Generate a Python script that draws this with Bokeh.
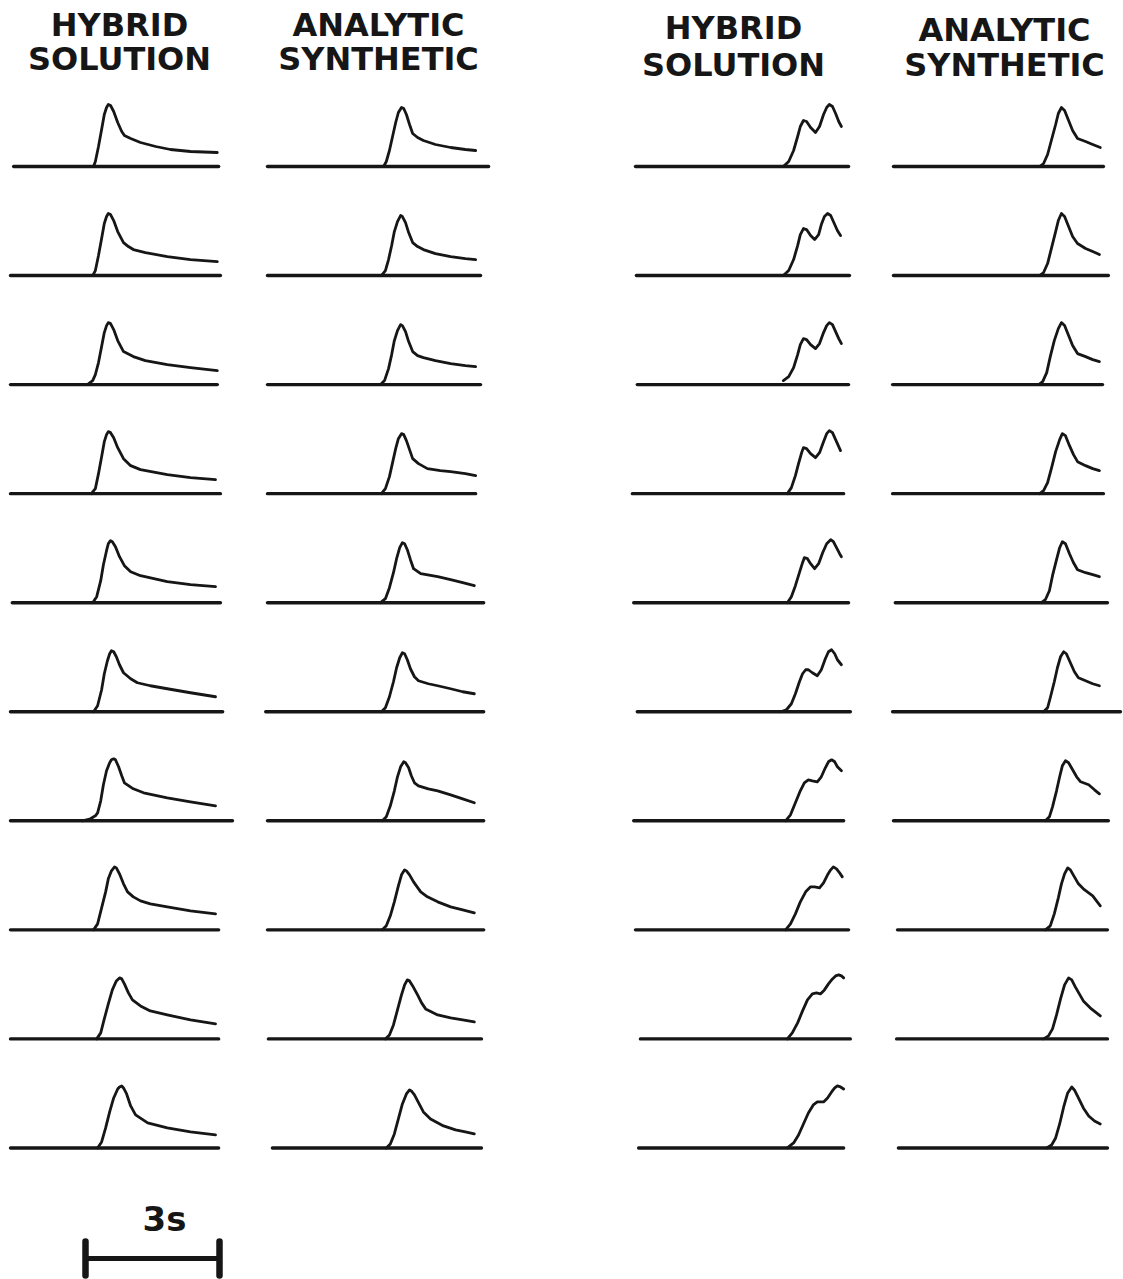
from bokeh.plotting import figure
from bokeh.models import Range1d
from bokeh.embed import file_html
from bokeh.resources import INLINE
from bokeh.core.properties import value

# ---------------------------------------------------------------------------
# Waveforms: time (s, from the left end of each column's trace) and amplitude
# (arbitrary units) for ten stations in each of the four columns.
# ---------------------------------------------------------------------------

# Column 1 - hybrid solution (left panel)
HYB_L_T = [
    [1.86, 1.90, 1.97, 2.04, 2.10, 2.15, 2.19, 2.24, 2.31, 2.40, 2.49, 2.55, 2.69, 2.91, 3.25, 3.58, 4.03, 4.63],
    [1.84, 1.90, 1.97, 2.04, 2.10, 2.15, 2.19, 2.24, 2.31, 2.40, 2.53, 2.64, 2.75, 3.02, 3.51, 4.03, 4.63],
    [1.72, 1.84, 1.90, 1.97, 2.04, 2.10, 2.15, 2.19, 2.24, 2.31, 2.40, 2.53, 2.75, 3.02, 3.51, 4.03, 4.63],
    [1.81, 1.90, 1.97, 2.04, 2.10, 2.15, 2.19, 2.24, 2.31, 2.40, 2.53, 2.69, 2.91, 3.51, 4.03, 4.59],
    [1.84, 1.93, 2.02, 2.08, 2.15, 2.19, 2.24, 2.28, 2.35, 2.44, 2.55, 2.69, 2.91, 3.51, 4.03, 4.59],
    [1.86, 1.95, 2.04, 2.10, 2.17, 2.22, 2.26, 2.31, 2.37, 2.44, 2.53, 2.69, 2.84, 3.13, 3.51, 4.03, 4.59],
    [1.61, 1.79, 1.90, 1.95, 2.02, 2.08, 2.15, 2.22, 2.26, 2.31, 2.35, 2.42, 2.49, 2.55, 2.75, 2.98, 3.51, 4.03, 4.59],
    [1.86, 1.95, 2.04, 2.13, 2.19, 2.26, 2.33, 2.37, 2.44, 2.53, 2.62, 2.75, 2.91, 3.13, 3.51, 4.03, 4.59],
    [1.93, 2.02, 2.10, 2.19, 2.28, 2.37, 2.44, 2.49, 2.55, 2.64, 2.73, 2.91, 3.13, 3.51, 4.03, 4.59],
    [1.95, 2.04, 2.13, 2.22, 2.31, 2.40, 2.44, 2.49, 2.53, 2.60, 2.69, 2.80, 3.07, 3.51, 4.03, 4.59],
]
HYB_L_A = [
    [0, 5, 20, 37, 52, 59, 62, 61, 55, 44, 35, 31, 28, 24, 20, 17, 15, 14],
    [0, 5, 20, 37, 52, 59, 62, 61, 55, 44, 33, 29, 26, 23, 19, 16, 14],
    [0, 4, 10, 22, 38, 52, 59, 62, 61, 55, 44, 33, 28, 24, 20, 17, 14],
    [0, 5, 20, 37, 52, 59, 62, 61, 56, 46, 35, 28, 24, 19, 16, 14],
    [0, 6, 22, 38, 52, 59, 62, 61, 56, 46, 37, 31, 27, 21, 18, 16],
    [0, 6, 22, 38, 51, 58, 61, 60, 55, 47, 39, 33, 29, 26, 23, 19, 15],
    [0, 2, 5, 8, 20, 36, 50, 58, 61, 62, 61, 54, 45, 38, 32, 28, 23, 19, 15],
    [0, 6, 22, 38, 51, 59, 63, 62, 56, 46, 38, 33, 29, 26, 23, 19, 16],
    [0, 6, 20, 35, 49, 58, 61, 60, 55, 46, 39, 33, 28, 24, 19, 15],
    [0, 6, 20, 36, 50, 59, 61, 62, 60, 54, 42, 33, 25, 20, 16, 13],
]
HYB_L_BS = [0.07, 0.0, 0.0, 0.0, 0.04, 0.0, 0.0, 0.0, 0.0, 0.0]
HYB_L_BE = [4.66, 4.70, 4.63, 4.70, 4.70, 4.75, 4.97, 4.66, 4.66, 4.66]

# Column 2 - analytic synthetic (left panel)
ANA_L_T = [
    [2.60, 2.66, 2.73, 2.80, 2.87, 2.93, 3.00, 3.05, 3.11, 3.18, 3.25, 3.36, 3.49, 3.76, 4.10, 4.43, 4.66],
    [2.55, 2.64, 2.71, 2.78, 2.84, 2.91, 2.98, 3.02, 3.09, 3.16, 3.25, 3.36, 3.49, 3.76, 4.10, 4.43, 4.66],
    [2.53, 2.62, 2.71, 2.78, 2.84, 2.91, 2.98, 3.02, 3.09, 3.16, 3.25, 3.36, 3.49, 3.76, 4.10, 4.43, 4.66],
    [2.55, 2.64, 2.73, 2.80, 2.87, 2.93, 3.00, 3.05, 3.11, 3.18, 3.25, 3.38, 3.58, 3.87, 4.10, 4.43, 4.66],
    [2.53, 2.64, 2.73, 2.82, 2.89, 2.96, 3.02, 3.07, 3.13, 3.20, 3.27, 3.43, 3.81, 4.10, 4.37, 4.63],
    [2.55, 2.64, 2.73, 2.82, 2.89, 2.96, 3.02, 3.07, 3.13, 3.20, 3.29, 3.38, 3.60, 3.81, 4.10, 4.37, 4.63],
    [2.57, 2.66, 2.75, 2.84, 2.91, 2.98, 3.05, 3.09, 3.16, 3.22, 3.29, 3.38, 3.60, 3.81, 4.10, 4.37, 4.63],
    [2.57, 2.66, 2.75, 2.84, 2.93, 3.00, 3.07, 3.11, 3.18, 3.27, 3.43, 3.58, 3.81, 4.10, 4.37, 4.63],
    [2.64, 2.73, 2.82, 2.91, 3.00, 3.07, 3.13, 3.18, 3.25, 3.36, 3.45, 3.54, 3.81, 4.10, 4.37, 4.63],
    [2.66, 2.75, 2.84, 2.93, 3.02, 3.11, 3.18, 3.22, 3.29, 3.36, 3.49, 3.65, 3.94, 4.21, 4.43, 4.63],
]
ANA_L_A = [
    [0, 5, 16, 30, 44, 54, 59, 58, 52, 42, 33, 29, 26, 22, 19, 17, 16],
    [0, 5, 16, 30, 44, 54, 60, 59, 53, 43, 33, 29, 26, 22, 19, 17, 16],
    [0, 4, 16, 30, 44, 54, 60, 59, 53, 43, 33, 29, 27, 24, 21, 19, 18],
    [0, 5, 17, 31, 45, 55, 60, 59, 53, 44, 35, 30, 25, 23, 22, 20, 18],
    [0, 4, 15, 30, 44, 55, 60, 59, 53, 43, 34, 29, 26, 23, 20, 17],
    [0, 4, 15, 30, 44, 54, 59, 58, 52, 43, 35, 31, 28, 26, 23, 20, 18],
    [0, 4, 15, 30, 44, 54, 59, 58, 53, 45, 38, 35, 32, 30, 26, 22, 18],
    [0, 4, 14, 28, 44, 55, 60, 59, 55, 48, 38, 33, 28, 23, 20, 17],
    [0, 4, 14, 29, 44, 54, 59, 58, 53, 44, 36, 30, 24, 21, 19, 17],
    [0, 4, 14, 29, 44, 54, 58, 57, 53, 47, 36, 29, 22, 18, 16, 14],
]
ANA_L_BS = [0.0, 0.0, 0.0, 0.0, 0.0, -0.04, 0.0, 0.0, 0.02, 0.11]
ANA_L_BE = [4.95, 4.77, 4.77, 4.66, 4.84, 4.84, 4.84, 4.84, 4.79, 4.79]

# Column 3 - hybrid solution (right panel)
HYB_R_T = [
    [3.31, 3.43, 3.54, 3.63, 3.69, 3.76, 3.83, 3.92, 4.03, 4.12, 4.21, 4.28, 4.34, 4.41, 4.48, 4.55, 4.61],
    [3.31, 3.43, 3.54, 3.63, 3.69, 3.76, 3.83, 3.92, 4.01, 4.10, 4.16, 4.23, 4.30, 4.37, 4.43, 4.52, 4.59],
    [3.31, 3.43, 3.54, 3.63, 3.69, 3.76, 3.83, 3.92, 4.03, 4.12, 4.21, 4.28, 4.34, 4.41, 4.48, 4.55, 4.61],
    [3.40, 3.49, 3.58, 3.65, 3.72, 3.76, 3.83, 3.92, 4.03, 4.12, 4.21, 4.28, 4.34, 4.41, 4.48, 4.55, 4.59],
    [3.40, 3.49, 3.58, 3.67, 3.74, 3.78, 3.85, 3.92, 4.01, 4.10, 4.19, 4.28, 4.37, 4.43, 4.50, 4.57, 4.61],
    [3.25, 3.38, 3.49, 3.58, 3.67, 3.74, 3.81, 3.87, 3.96, 4.07, 4.16, 4.25, 4.32, 4.39, 4.46, 4.52, 4.61],
    [3.36, 3.47, 3.58, 3.69, 3.78, 3.87, 3.96, 4.07, 4.16, 4.25, 4.32, 4.39, 4.46, 4.52, 4.61],
    [3.36, 3.47, 3.58, 3.69, 3.81, 3.92, 4.01, 4.12, 4.21, 4.30, 4.37, 4.43, 4.50, 4.57, 4.63],
    [3.40, 3.51, 3.63, 3.74, 3.85, 3.96, 4.05, 4.14, 4.23, 4.32, 4.41, 4.48, 4.55, 4.61, 4.66],
    [3.40, 3.54, 3.65, 3.76, 3.87, 3.98, 4.07, 4.14, 4.21, 4.30, 4.39, 4.46, 4.52, 4.59, 4.66],
]
HYB_R_A = [
    [0, 5, 16, 30, 40, 46, 45, 39, 34, 40, 52, 59, 62, 60, 53, 45, 40],
    [0, 5, 16, 30, 41, 47, 46, 40, 36, 41, 51, 59, 62, 60, 54, 45, 40],
    [4, 8, 17, 30, 40, 46, 45, 40, 36, 41, 52, 59, 62, 60, 53, 46, 41],
    [0, 6, 18, 30, 41, 46, 45, 40, 36, 41, 52, 60, 63, 61, 54, 47, 43],
    [0, 6, 17, 30, 40, 45, 44, 39, 34, 39, 50, 59, 63, 61, 55, 49, 46],
    [0, 2, 8, 18, 30, 38, 42, 42, 39, 36, 42, 53, 60, 62, 58, 52, 47],
    [0, 6, 18, 30, 38, 41, 40, 39, 44, 53, 59, 61, 59, 54, 50],
    [0, 6, 16, 28, 38, 43, 43, 42, 47, 55, 60, 63, 61, 57, 53],
    [0, 6, 16, 28, 39, 45, 46, 45, 49, 55, 60, 63, 64, 63, 61],
    [0, 5, 13, 24, 35, 43, 46, 46, 46, 50, 56, 60, 62, 61, 59],
]
HYB_R_BS = [0.0, 0.02, 0.04, -0.07, -0.04, 0.04, -0.04, 0.0, 0.11, 0.07]
HYB_R_BE = [4.77, 4.79, 4.77, 4.66, 4.77, 4.81, 4.66, 4.77, 4.81, 4.66]

# Column 4 - analytic synthetic (right panel)
ANA_R_T = [
    [3.27, 3.36, 3.45, 3.54, 3.63, 3.69, 3.76, 3.83, 3.92, 4.01, 4.12, 4.30, 4.46, 4.63],
    [3.27, 3.36, 3.45, 3.54, 3.63, 3.69, 3.76, 3.83, 3.92, 4.01, 4.12, 4.30, 4.46, 4.61],
    [3.25, 3.34, 3.43, 3.51, 3.60, 3.69, 3.76, 3.83, 3.92, 4.01, 4.12, 4.30, 4.46, 4.61],
    [3.27, 3.36, 3.45, 3.54, 3.63, 3.72, 3.78, 3.85, 3.94, 4.03, 4.12, 4.30, 4.46, 4.61],
    [3.31, 3.40, 3.49, 3.56, 3.65, 3.72, 3.78, 3.85, 3.94, 4.03, 4.12, 4.30, 4.46, 4.61],
    [3.36, 3.45, 3.51, 3.60, 3.67, 3.74, 3.81, 3.87, 3.96, 4.05, 4.14, 4.30, 4.46, 4.61],
    [3.40, 3.49, 3.56, 3.65, 3.72, 3.78, 3.85, 3.92, 4.01, 4.10, 4.19, 4.37, 4.50, 4.61],
    [3.40, 3.51, 3.60, 3.69, 3.76, 3.83, 3.90, 3.96, 4.05, 4.14, 4.25, 4.46, 4.63],
    [3.36, 3.47, 3.56, 3.65, 3.74, 3.83, 3.92, 3.99, 4.07, 4.16, 4.25, 4.43, 4.63],
    [3.43, 3.54, 3.63, 3.72, 3.81, 3.90, 3.99, 4.05, 4.14, 4.25, 4.37, 4.50, 4.63],
]
ANA_R_A = [
    [0, 3, 12, 27, 42, 53, 59, 56, 46, 36, 28, 25, 22, 19],
    [0, 3, 12, 28, 44, 55, 62, 59, 49, 39, 32, 27, 24, 21],
    [0, 3, 12, 28, 44, 56, 62, 59, 49, 39, 31, 28, 25, 23],
    [0, 3, 11, 26, 42, 54, 60, 58, 48, 39, 32, 28, 25, 23],
    [0, 3, 12, 27, 43, 55, 61, 59, 49, 40, 33, 30, 28, 26],
    [0, 4, 14, 30, 44, 55, 60, 58, 49, 40, 34, 31, 28, 26],
    [0, 4, 14, 30, 44, 55, 60, 58, 51, 44, 39, 36, 31, 27],
    [0, 4, 16, 32, 46, 56, 62, 60, 53, 46, 41, 34, 24],
    [0, 3, 10, 24, 40, 54, 61, 59, 52, 45, 38, 30, 23],
    [0, 3, 10, 24, 41, 55, 61, 58, 50, 40, 32, 27, 24],
]
ANA_R_BS = [0.0, 0.0, -0.02, -0.02, 0.04, -0.02, 0.0, 0.09, 0.07, 0.11]
ANA_R_BE = [4.70, 4.81, 4.68, 4.70, 4.79, 5.08, 4.81, 4.79, 4.79, 4.79]

TITLES = [("HYBRID", "SOLUTION"), ("ANALYTIC", "SYNTHETIC"),
          ("HYBRID", "SOLUTION"), ("ANALYTIC", "SYNTHETIC")]
SCALE_BAR_S = 3
SCALE_LABEL = "3s"

COLUMNS = [
    (HYB_L_T, HYB_L_A, HYB_L_BS, HYB_L_BE),
    (ANA_L_T, ANA_L_A, ANA_L_BS, ANA_L_BE),
    (HYB_R_T, HYB_R_A, HYB_R_BS, HYB_R_BE),
    (ANA_R_T, ANA_R_A, ANA_R_BS, ANA_R_BE),
]

# ---------------------------------------------------------------------------
# Layout
# ---------------------------------------------------------------------------
W, H = 1123, 1279
PX_PER_S = 134 / 3.0             # horizontal scale: 3 s spans 134 px
COL_X0 = [10, 267, 635, 893]     # left end of each column (px)
ROW_Y0, ROW_DY = 166, 109.05     # first trace baseline and trace spacing (px)
INK = "#161616"
FONT = value("DejaVu Sans")

# title positions: (centre x, text anchor of line 1, of line 2) in px
TITLE_POS = [(119, 24, 58), (378, 24, 58), (733, 27, 64), (1004, 29, 64)]


def sx(px):
    return px / PX_PER_S


p = figure(width=W, height=H,
           x_range=Range1d(0, W / PX_PER_S), y_range=Range1d(-H, 0),
           x_axis_type=None, y_axis_type=None,
           toolbar_location=None, output_backend="svg",
           min_border=0, outline_line_color=None,
           background_fill_color="white", border_fill_color="white")
p.grid.visible = False

trace_xs, trace_ys = [], []
b_x0, b_x1, b_y = [], [], []
for c, (T, A, BS, BE) in enumerate(COLUMNS):
    t0 = sx(COL_X0[c])
    for r in range(len(T)):
        base = -(ROW_Y0 + ROW_DY * r)
        trace_xs.append([t0 + t for t in T[r]])
        trace_ys.append([base + a for a in A[r]])
        b_x0.append(t0 + BS[r])
        b_x1.append(t0 + BE[r])
        b_y.append(base)

# zero lines
p.segment(x0=b_x0, y0=b_y, x1=b_x1, y1=b_y, line_color=INK,
          line_width=3.4, line_cap="round")
# waveforms
p.multi_line(xs=trace_xs, ys=trace_ys, line_color=INK, line_width=2.8,
             line_join="round", line_cap="round")

# column titles
tx, ty, tt = [], [], []
for (l1, l2), (cx, y1, y2) in zip(TITLES, TITLE_POS):
    tx += [sx(cx), sx(cx)]
    ty += [-y1, -y2]
    tt += [l1, l2]
p.text(x=tx, y=ty, text=tt, text_font=FONT, text_font_style="bold",
       text_font_size="32px", text_color=INK, text_align="center",
       text_baseline="alphabetic")

# time scale bar
bar_x0 = sx(85)
bar_x1 = bar_x0 + SCALE_BAR_S
p.segment(x0=[bar_x0], y0=[-1258], x1=[bar_x1], y1=[-1258],
          line_color=INK, line_width=5, line_cap="butt")
p.segment(x0=[bar_x0, bar_x1], y0=[-1241, -1241], x1=[bar_x0, bar_x1],
          y1=[-1275, -1275], line_color=INK, line_width=6.5, line_cap="round")
p.text(x=[(bar_x0 + bar_x1) / 2 + sx(12)], y=[-1218], text=[SCALE_LABEL],
       text_font=FONT, text_font_style="bold", text_font_size="34px",
       text_color=INK, text_align="center", text_baseline="alphabetic")

open("out.html", "w").write(file_html(p, INLINE))
